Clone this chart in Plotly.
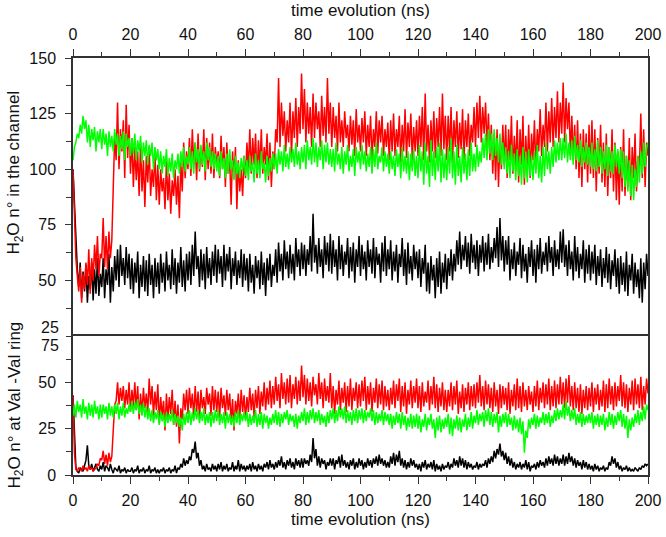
import plotly.graph_objects as go

# sampling interval of the traces (ns)
DT = 0.5

# water count inside the channel (top panel), one value per 0.5 ns
chan_black = [
    100, 84, 66, 55, 47, 58, 42, 54, 45, 57, 40, 52, 46, 58, 41, 55, 44, 60, 43, 53,
    47, 60, 42, 55, 48, 62, 40, 56, 45, 61, 50, 64, 47, 66, 52, 60, 48, 65, 51, 62,
    46, 60, 44, 58, 49, 63, 42, 57, 47, 61, 45, 59, 43, 62, 48, 57, 42, 60, 47, 58,
    44, 62, 49, 58, 45, 63, 50, 57, 46, 64, 48, 60, 44, 58, 49, 65, 47, 59, 45, 62,
    50, 63, 48, 66, 52, 72, 55, 61, 47, 64, 50, 62, 46, 65, 51, 60, 48, 63, 52, 66,
    49, 64, 53, 61, 47, 66, 50, 62, 54, 65, 46, 60, 52, 63, 48, 59, 51, 64, 47, 62,
    50, 60, 45, 62, 49, 57, 44, 61, 51, 59, 46, 63, 48, 58, 43, 60, 50, 62, 47, 57,
    52, 64, 49, 67, 54, 62, 50, 68, 55, 63, 51, 66, 53, 62, 50, 69, 56, 64, 52, 67,
    55, 66, 52, 64, 57, 70, 54, 80, 58, 66, 53, 69, 56, 64, 51, 70, 57, 67, 54, 71,
    53, 68, 56, 64, 50, 70, 55, 66, 52, 63, 57, 69, 51, 65, 54, 67, 49, 64, 56, 70,
    52, 66, 55, 63, 50, 68, 56, 64, 53, 69, 51, 65, 57, 62, 49, 67, 54, 70, 52, 64,
    55, 68, 50, 63, 54, 66, 49, 62, 56, 69, 52, 64, 48, 67, 53, 61, 50, 66, 55, 63,
    51, 64, 47, 60, 53, 66, 45, 58, 44, 61, 50, 57, 42, 60, 47, 63, 44, 58, 49, 62,
    46, 60, 52, 64, 50, 62, 54, 68, 57, 72, 55, 66, 59, 70, 56, 67, 53, 71, 58, 66,
    55, 68, 52, 66, 58, 70, 54, 67, 57, 71, 55, 65, 58, 69, 60, 74, 56, 78, 59, 70,
    54, 68, 57, 70, 50, 64, 55, 67, 52, 63, 57, 69, 51, 66, 54, 62, 49, 65, 56, 68,
    52, 64, 49, 66, 55, 69, 53, 63, 57, 67, 54, 70, 58, 65, 52, 68, 56, 64, 55, 72,
    58, 73, 56, 66, 52, 68, 55, 63, 50, 70, 54, 65, 51, 62, 55, 68, 49, 64, 53, 66,
    50, 63, 53, 66, 48, 61, 52, 64, 47, 60, 51, 65, 49, 62, 46, 59, 52, 64, 47, 60,
    44, 61, 48, 58, 45, 63, 43, 57, 50, 62, 44, 58, 47, 55, 42, 60, 40, 58, 46, 62,
    52,
]
chan_red = [
    100, 80, 60, 52, 45, 56, 40, 53, 46, 58, 48, 64, 44, 60, 50, 66, 55, 70, 52, 62,
    60, 78, 56, 70, 55, 72, 60, 68, 92, 115, 104, 130, 100, 118, 108, 122, 96, 129, 105, 120,
    98, 114, 92, 110, 95, 108, 88, 112, 90, 104, 83, 106, 94, 110, 88, 100, 92, 108, 86, 102,
    84, 100, 90, 96, 82, 104, 86, 98, 80, 95, 88, 100, 84, 97, 78, 103, 90, 112, 96, 108,
    100, 114, 97, 118, 102, 112, 95, 116, 99, 110, 101, 118, 95, 114, 100, 112, 98, 116, 96, 110,
    102, 108, 96, 115, 100, 110, 92, 112, 98, 104, 84, 108, 96, 110, 82, 104, 90, 100, 88, 106,
    96, 112, 100, 118, 98, 114, 102, 116, 96, 113, 100, 118, 98, 110, 102, 116, 95, 112, 92, 108,
    100, 118, 112, 141, 110, 130, 115, 126, 108, 122, 112, 130, 106, 126, 114, 132, 110, 128, 116, 143,
    118, 136, 112, 130, 116, 128, 110, 134, 114, 130, 118, 126, 110, 133, 115, 128, 112, 141, 116, 130,
    110, 128, 114, 124, 108, 130, 112, 122, 110, 126, 114, 120, 108, 124, 111, 122, 106, 127, 112, 120,
    108, 123, 112, 126, 106, 120, 110, 124, 104, 118, 110, 126, 107, 122, 112, 124, 106, 118, 110, 121,
    104, 122, 108, 125, 106, 118, 110, 124, 103, 120, 108, 127, 105, 121, 110, 125, 104, 119, 108, 122,
    106, 124, 110, 128, 104, 134, 108, 120, 103, 122, 108, 126, 105, 123, 110, 128, 106, 134, 109, 124,
    104, 124, 108, 128, 103, 122, 110, 126, 105, 121, 109, 127, 104, 122, 110, 125, 106, 120, 112, 128,
    110, 130, 114, 133, 112, 128, 116, 130, 110, 125, 104, 120, 98, 116, 95, 118, 92, 114, 100, 120,
    102, 120, 96, 118, 104, 124, 98, 115, 100, 122, 94, 118, 102, 124, 93, 115, 99, 120, 96, 116,
    104, 122, 100, 118, 108, 127, 106, 120, 110, 130, 108, 126, 112, 132, 110, 128, 114, 135, 112, 130,
    116, 139, 112, 132, 118, 130, 106, 124, 104, 120, 100, 122, 96, 116, 92, 118, 100, 116, 94, 120,
    98, 122, 96, 118, 90, 114, 98, 120, 94, 112, 92, 116, 88, 110, 96, 118, 90, 112, 86, 108,
    84, 110, 90, 118, 88, 106, 92, 114, 86, 110, 96, 116, 90, 106, 100, 125, 96, 118, 92, 112,
    106,
]
chan_green = [
    104, 110, 112, 116, 114, 120, 116, 124, 118, 122, 112, 120, 110, 118, 113, 119, 108, 117, 112, 118,
    109, 118, 111, 116, 106, 117, 110, 115, 108, 118, 111, 116, 106, 115, 109, 117, 104, 116, 110, 114,
    106, 114, 107, 116, 104, 113, 108, 115, 103, 112, 106, 113, 102, 111, 106, 112, 100, 110, 104, 109,
    100, 108, 98, 106, 101, 109, 97, 105, 99, 107, 96, 104, 100, 107, 98, 108, 101, 110, 99, 106,
    102, 110, 100, 108, 98, 112, 103, 109, 100, 111, 102, 108, 99, 112, 104, 110, 101, 108, 100, 107,
    99, 106, 97, 108, 100, 105, 96, 107, 98, 109, 100, 104, 95, 106, 98, 103, 96, 105, 99, 106,
    97, 104, 95, 106, 99, 103, 94, 107, 98, 104, 96, 108, 100, 103, 94, 106, 97, 105, 99, 107,
    100, 107, 98, 109, 102, 108, 99, 111, 101, 107, 100, 110, 103, 109, 101, 112, 102, 108, 100, 110,
    103, 111, 100, 113, 104, 110, 102, 114, 103, 112, 101, 110, 104, 113, 100, 111, 103, 112, 102, 109,
    101, 109, 99, 112, 102, 107, 100, 110, 98, 108, 102, 111, 99, 106, 101, 109, 97, 110, 103, 108,
    100, 111, 102, 108, 99, 107, 101, 110, 98, 109, 101, 112, 100, 106, 103, 110, 99, 108, 101, 107,
    98, 108, 100, 106, 97, 109, 101, 107, 96, 110, 99, 106, 98, 108, 95, 107, 99, 109, 97, 106,
    96, 111, 99, 108, 93, 112, 98, 106, 92, 113, 97, 108, 95, 110, 99, 112, 94, 109, 96, 107,
    95, 110, 98, 114, 96, 108, 93, 111, 97, 106, 94, 110, 98, 107, 95, 109, 97, 112, 99, 107,
    99, 111, 101, 108, 103, 114, 105, 116, 104, 118, 107, 116, 104, 118, 106, 114, 103, 116, 102, 112,
    100, 110, 98, 108, 96, 111, 99, 107, 95, 109, 97, 106, 93, 110, 96, 108, 94, 109, 97, 106,
    95, 108, 98, 111, 96, 106, 94, 110, 97, 112, 100, 108, 98, 110, 101, 113, 103, 112, 104, 114,
    104, 114, 105, 116, 103, 112, 104, 113, 102, 115, 104, 111, 103, 113, 101, 110, 103, 112, 102, 110,
    101, 112, 100, 109, 99, 113, 101, 110, 98, 108, 100, 111, 97, 110, 99, 108, 98, 111, 101, 109,
    98, 109, 96, 108, 92, 106, 90, 104, 88, 102, 86, 100, 92, 106, 94, 108, 98, 112, 101, 110,
    112,
]

# water count at the Val-Val ring (bottom panel), one value per 0.5 ns
ring_black = [
    43, 20, 4, 2, 1, 4, 3, 2, 5, 8, 16, 5, 3, 6, 2, 4, 6, 3, 2, 5,
    3, 7, 2, 5, 4, 2, 6, 3, 1, 4, 3, 2, 5, 1, 3, 2, 4, 1, 3, 2,
    2, 4, 1, 3, 2, 5, 1, 3, 2, 4, 1, 3, 2, 5, 1, 3, 2, 4, 1, 3,
    1, 3, 2, 4, 1, 3, 2, 4, 1, 3, 2, 5, 1, 4, 3, 6, 4, 9, 5, 8,
    6, 10, 8, 14, 12, 18, 9, 12, 5, 8, 3, 5, 2, 6, 3, 4, 2, 6, 3, 5,
    2, 6, 3, 7, 2, 5, 3, 6, 2, 4, 3, 7, 2, 5, 3, 8, 2, 6, 3, 5,
    2, 5, 3, 6, 2, 7, 3, 5, 2, 6, 3, 5, 2, 6, 4, 7, 3, 8, 4, 6,
    3, 7, 4, 8, 5, 10, 4, 7, 3, 8, 5, 9, 4, 7, 3, 9, 5, 8, 4, 9,
    4, 9, 6, 8, 5, 11, 7, 20, 9, 14, 5, 10, 4, 9, 6, 8, 3, 7, 5, 9,
    5, 9, 3, 8, 6, 10, 4, 11, 5, 8, 4, 7, 3, 8, 5, 9, 3, 7, 4, 9,
    5, 8, 3, 7, 4, 9, 5, 8, 4, 9, 6, 10, 5, 11, 6, 9, 5, 8, 4, 7,
    4, 10, 6, 12, 5, 11, 7, 13, 5, 9, 4, 8, 3, 7, 4, 9, 5, 8, 4, 6,
    3, 6, 2, 7, 4, 8, 3, 6, 4, 7, 3, 8, 2, 6, 3, 5, 2, 6, 3, 5,
    4, 7, 3, 6, 4, 9, 5, 8, 4, 10, 5, 9, 4, 8, 3, 7, 4, 6, 3, 5,
    4, 7, 3, 6, 4, 6, 5, 8, 4, 9, 6, 10, 7, 13, 9, 14, 11, 17, 10, 13,
    8, 12, 6, 10, 5, 9, 4, 7, 3, 6, 4, 7, 3, 6, 4, 8, 3, 7, 2, 5,
    4, 6, 3, 7, 4, 8, 5, 7, 4, 9, 5, 10, 6, 9, 5, 11, 6, 10, 5, 9,
    6, 11, 5, 10, 6, 12, 7, 10, 5, 9, 4, 8, 5, 7, 3, 8, 4, 7, 3, 6,
    3, 5, 2, 6, 3, 5, 2, 4, 3, 5, 2, 4, 3, 7, 5, 10, 6, 9, 4, 7,
    3, 5, 2, 4, 3, 5, 2, 4, 2, 3, 2, 4, 3, 2, 4, 3, 5, 4, 6, 5,
    6,
]
ring_red = [
    43, 12, 3, 2, 4, 3, 2, 5, 3, 4, 2, 5, 3, 4, 2, 3, 4, 6, 5, 9,
    8, 13, 6, 11, 5, 12, 7, 10, 22, 38, 40, 50, 38, 47, 40, 48, 36, 46, 38, 50,
    34, 46, 37, 50, 35, 48, 30, 44, 33, 47, 36, 44, 34, 52, 38, 48, 32, 45, 35, 49,
    28, 42, 32, 40, 24, 44, 30, 42, 33, 46, 27, 40, 26, 38, 17, 36, 30, 44, 35, 46,
    33, 47, 36, 44, 31, 48, 34, 45, 30, 46, 36, 42, 33, 47, 38, 44, 32, 48, 35, 46,
    34, 45, 31, 47, 36, 43, 32, 46, 35, 44, 28, 41, 24, 40, 33, 44, 30, 46, 34, 43,
    30, 42, 34, 47, 35, 44, 31, 46, 36, 48, 33, 45, 37, 50, 35, 47, 38, 51, 36, 48,
    38, 53, 40, 49, 36, 55, 41, 50, 38, 52, 39, 54, 36, 49, 41, 53, 38, 51, 40, 59,
    42, 54, 38, 52, 40, 50, 37, 53, 43, 49, 38, 55, 41, 50, 36, 52, 40, 48, 39, 55,
    36, 48, 33, 46, 38, 51, 35, 47, 39, 50, 34, 48, 37, 52, 35, 47, 40, 50, 36, 49,
    37, 51, 40, 53, 35, 48, 38, 50, 34, 47, 39, 52, 36, 49, 38, 51, 35, 48, 37, 46,
    35, 47, 38, 51, 36, 49, 40, 52, 34, 48, 37, 50, 33, 46, 38, 51, 36, 48, 39, 52,
    36, 48, 34, 50, 37, 45, 39, 51, 35, 48, 38, 53, 36, 49, 34, 47, 37, 50, 35, 46,
    34, 46, 37, 50, 35, 48, 38, 51, 33, 45, 36, 49, 34, 47, 38, 50, 35, 48, 37, 49,
    36, 50, 39, 54, 37, 48, 35, 51, 38, 49, 36, 47, 34, 50, 37, 46, 33, 49, 36, 48,
    38, 47, 35, 50, 33, 46, 37, 49, 35, 52, 36, 48, 34, 50, 37, 46, 35, 48, 38, 45,
    34, 48, 37, 51, 35, 47, 39, 50, 36, 49, 38, 52, 35, 48, 37, 51, 36, 49, 38, 53,
    38, 50, 36, 52, 39, 54, 37, 48, 35, 50, 36, 47, 34, 49, 33, 46, 36, 48, 35, 47,
    37, 50, 34, 47, 38, 49, 35, 46, 37, 51, 34, 49, 36, 52, 38, 48, 35, 50, 37, 48,
    40, 54, 37, 50, 36, 49, 34, 47, 38, 51, 35, 52, 38, 49, 36, 53, 35, 48, 38, 52,
    44,
]
ring_green = [
    32, 38, 31, 40, 34, 38, 31, 41, 33, 37, 30, 39, 32, 38, 31, 40, 33, 37, 30, 38,
    31, 38, 33, 37, 30, 39, 32, 37, 31, 38, 33, 39, 30, 37, 32, 39, 31, 36, 33, 38,
    34, 40, 33, 39, 35, 41, 33, 38, 32, 39, 31, 37, 30, 36, 29, 35, 28, 34, 30, 35,
    27, 34, 29, 33, 26, 34, 28, 33, 29, 35, 27, 33, 28, 32, 26, 31, 24, 33, 27, 34,
    28, 35, 27, 34, 29, 36, 30, 35, 28, 34, 29, 36, 27, 33, 28, 34, 26, 34, 28, 35,
    29, 35, 27, 33, 28, 34, 25, 34, 28, 33, 27, 32, 26, 34, 28, 35, 27, 33, 29, 34,
    29, 34, 26, 33, 27, 32, 28, 35, 26, 33, 27, 34, 25, 33, 28, 32, 25, 31, 27, 33,
    28, 35, 27, 34, 26, 33, 28, 34, 30, 35, 27, 33, 29, 32, 26, 33, 25, 32, 28, 34,
    29, 36, 27, 34, 28, 35, 30, 36, 28, 34, 29, 35, 27, 33, 28, 32, 26, 34, 28, 35,
    30, 36, 28, 35, 29, 37, 31, 36, 30, 37, 28, 35, 29, 34, 27, 35, 29, 36, 28, 35,
    30, 36, 28, 35, 29, 34, 31, 36, 29, 35, 27, 34, 28, 33, 29, 35, 27, 34, 29, 33,
    27, 33, 25, 32, 27, 34, 28, 33, 25, 34, 27, 32, 24, 31, 26, 33, 25, 32, 26, 33,
    25, 32, 23, 30, 26, 33, 24, 31, 27, 33, 25, 30, 20, 31, 24, 32, 23, 30, 25, 31,
    26, 33, 22, 31, 21, 30, 25, 32, 24, 31, 23, 30, 26, 33, 24, 31, 26, 34, 25, 32,
    28, 35, 27, 33, 29, 34, 26, 35, 29, 36, 27, 34, 26, 33, 28, 34, 23, 32, 26, 33,
    28, 34, 26, 33, 27, 31, 24, 32, 25, 30, 23, 31, 22, 29, 12, 24, 20, 30, 25, 31,
    27, 33, 25, 32, 26, 31, 28, 34, 27, 33, 28, 34, 26, 32, 28, 35, 29, 36, 30, 35,
    31, 38, 30, 40, 32, 37, 29, 35, 30, 36, 27, 33, 28, 34, 26, 33, 27, 32, 28, 33,
    28, 34, 25, 32, 27, 33, 26, 32, 27, 33, 24, 31, 26, 34, 27, 33, 25, 32, 27, 34,
    29, 35, 26, 33, 25, 32, 20, 30, 24, 31, 26, 33, 28, 35, 27, 34, 29, 37, 30, 38,
    35,
]

x_ticks = [0, 20, 40, 60, 80, 100, 120, 140, 160, 180, 200]
# the shared boundary values (25 top, 75 bottom) are labelled separately below
top_ticks = [50, 75, 100, 125, 150]
bot_ticks = [0, 25, 50]
top_floor = 25
bot_ceiling = 75

FONT = "Liberation Sans, Arial, sans-serif"
AX = "#333333"
TXT = "#111111"


def times(series):
    return [i * DT for i in range(len(series))]


fig = go.Figure()

for y, col in [(chan_black, "#000000"), (chan_red, "#ff0000"), (chan_green, "#00ff00")]:
    fig.add_trace(go.Scatter(x=times(y), y=y, mode="lines", xaxis="x", yaxis="y",
                             line=dict(color=col, width=1.5), showlegend=False))

for y, col in [(ring_black, "#000000"), (ring_red, "#ff0000"), (ring_green, "#00ff00")]:
    fig.add_trace(go.Scatter(x=times(y), y=y, mode="lines", xaxis="x2", yaxis="y2",
                             line=dict(color=col, width=1.5), showlegend=False))

xcommon = dict(
    range=[0, 200], tickvals=x_ticks, ticks="outside", ticklen=7, tickwidth=1.3,
    tickcolor=AX, showline=True, linecolor=AX, linewidth=1.5,
    showgrid=False, zeroline=False, automargin=False, ticklabelstandoff=3,
    minor=dict(dtick=10, tick0=0, ticks="outside", ticklen=4, tickcolor=AX, showgrid=False),
    tickfont=dict(size=16, color=TXT),
    title=dict(text="time evolution (ns)", font=dict(size=17, color=TXT), standoff=5),
)
ycommon = dict(
    ticks="outside", ticklen=6, tickwidth=1.3, tickcolor=AX,
    showline=True, linecolor=AX, linewidth=1.5, mirror=True,
    showgrid=False, zeroline=False, automargin=False, ticklabelstandoff=6,
    minor=dict(dtick=12.5, tick0=0, ticks="outside", ticklen=5, tickcolor=AX, showgrid=False),
    tickfont=dict(size=16, color=TXT),
)

fig.update_layout(
    width=666, height=537,
    margin=dict(l=73, r=18, t=58, b=62),
    paper_bgcolor="white", plot_bgcolor="white",
    font=dict(family=FONT, color=TXT),
    xaxis=dict(xcommon, anchor="y", side="top", domain=[0, 1], mirror=False),
    xaxis2=dict(xcommon, anchor="y2", side="bottom", domain=[0, 1], mirror=True),
    yaxis=dict(ycommon, range=[top_floor, 150], tickvals=top_ticks,
               domain=[1 / 3, 1], anchor="x"),
    yaxis2=dict(ycommon, range=[0, bot_ceiling], tickvals=bot_ticks,
                domain=[0, 1 / 3], anchor="x2"),
)

# boundary tick labels, nudged apart as in the original
fig.add_annotation(x=0, xref="paper", y=top_floor, yref="y", text=str(top_floor),
                   showarrow=False, xanchor="right", xshift=-12, yshift=9,
                   font=dict(size=16, color=TXT))
fig.add_annotation(x=0, xref="paper", y=bot_ceiling, yref="y2", text=str(bot_ceiling),
                   showarrow=False, xanchor="right", xshift=-12, yshift=-9,
                   font=dict(size=16, color=TXT))

# y axis titles
fig.add_annotation(x=0, xref="paper", y=98.5, yref="y", text="H<sub>2</sub>O n° in the channel",
                   showarrow=False, textangle=-90, xanchor="center", xshift=-58,
                   font=dict(size=17, color=TXT))
fig.add_annotation(x=0, xref="paper", y=37.5, yref="y2", text="H<sub>2</sub>O n° at Val -Val ring",
                   showarrow=False, textangle=-90, xanchor="center", xshift=-58,
                   font=dict(size=17, color=TXT))

# drop the default page margin so the figure sits at the window corner
fig.write_html("out.html", config={"displayModeBar": False},
               post_script="document.body.style.margin='0';")
